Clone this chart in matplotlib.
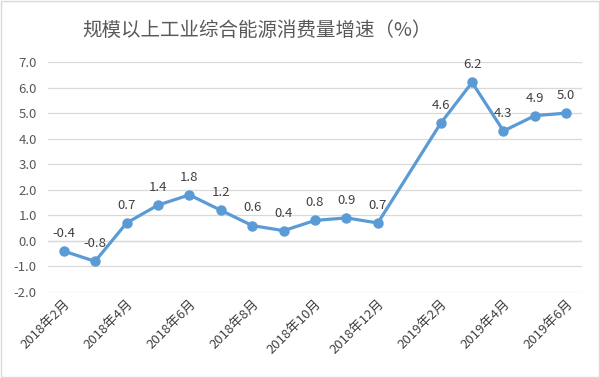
import matplotlib
matplotlib.use("Agg")
import matplotlib.pyplot as plt
import numpy as np

plt.rcParams['font.family'] = ['Noto Sans CJK SC', 'DejaVu Sans']

categories = ["2018年2月", "2018年3月", "2018年4月", "2018年5月", "2018年6月", "2018年7月",
              "2018年8月", "2018年9月", "2018年10月", "2018年11月", "2018年12月",
              "2019年1月", "2019年2月", "2019年3月", "2019年4月", "2019年5月", "2019年6月"]
values = [-0.4, -0.8, 0.7, 1.4, 1.8, 1.2, 0.6, 0.4, 0.8, 0.9, 0.7,
          np.nan, 4.6, 6.2, 4.3, 4.9, 5.0]
yticks = [-2.0, -1.0, 0.0, 1.0, 2.0, 3.0, 4.0, 5.0, 6.0, 7.0]
title = "规模以上工业综合能源消费量增速（%）"

fig = plt.figure(figsize=(6, 3.78), dpi=100)
fig.patch.set_facecolor('white')
ax = fig.add_axes([0.08, 0.2275, 0.89, 0.6085])

x = np.arange(len(categories))
v = np.array(values, dtype=float)
mask = ~np.isnan(v)
color = '#5B9BD5'
ax.plot(x[mask], v[mask], color=color, lw=2.3, marker='o', ms=6.5, zorder=3)

for xi, vi in zip(x[mask], v[mask]):
    ax.annotate(f"{vi:.1f}", (xi, vi), xytext=(0, 8), textcoords='offset points',
                ha='center', va='bottom', fontsize=9.5, color='#404040')

ax.set_xlim(-0.5, len(categories) - 0.5)
ax.set_ylim(-2, 7)
ax.set_yticks(yticks)
ax.set_yticklabels([f"{t:.1f}" for t in yticks], fontsize=9.5, color='#595959')
ax.yaxis.grid(True, color='#D9D9D9', lw=0.9)
ax.set_axisbelow(True)
ax.tick_params(axis='y', length=0, pad=8)

ax.set_xticks(x[::2])
ax.set_xticklabels(categories[::2], rotation=45, ha='right', va='top',
                   rotation_mode='anchor', fontsize=9.5, color='#404040')
ax.tick_params(axis='x', length=0, pad=4)
for s in ax.spines.values():
    s.set_visible(False)
ax.axhline(0, color='#D9D9D9', lw=0.9, zorder=1)

fig.text(0.428, 0.92, title, ha='center', va='center', fontsize=14, color='#595959')

border = plt.Rectangle((0.002, 0.002), 0.996, 0.996, transform=fig.transFigure,
                       fill=False, edgecolor='#D9D9D9', lw=1)
fig.patches.append(border)

fig.savefig('out.png', dpi=100)
